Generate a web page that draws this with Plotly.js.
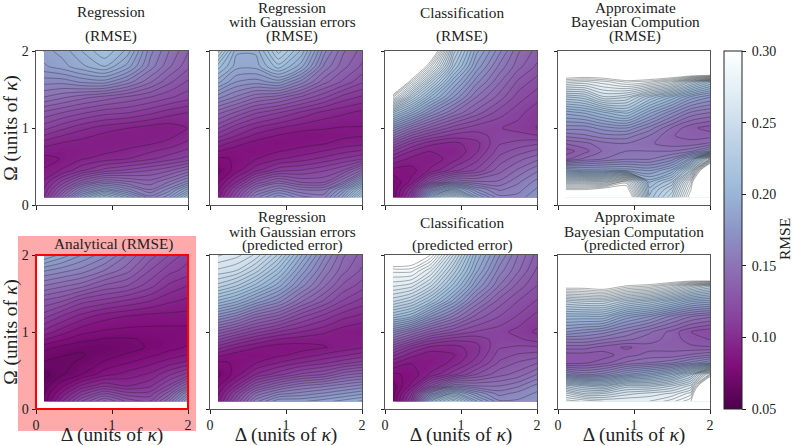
<!DOCTYPE html>
<html>
<head>
<meta charset="utf-8">
<script src="https://cdn.plot.ly/plotly-3.0.1.min.js"></script>
<style>
	html, body { margin: 0; padding: 0; background: #fff; }
	#chart { width: 793px; height: 446px; }
</style>
</head>
<body>
<div id="chart"></div>
<script>
"use strict";

// grid of the maps, omega goes top to bottom like the rows below
const delta = [0.1, 0.35, 0.6, 0.9, 1.2, 1.5, 1.75, 2.0];
const omega = [2.0, 1.8, 1.6, 1.4, 1.2, 1.0, 0.9, 0.8, 0.7, 0.6, 0.45, 0.3, 0.2, 0.1];

const regressionRmse = [
	[0.185, 0.19, 0.2, 0.212, 0.198, 0.165, 0.15, 0.138],
	[0.18, 0.185, 0.192, 0.2, 0.185, 0.16, 0.145, 0.133],
	[0.165, 0.165, 0.17, 0.172, 0.16, 0.145, 0.133, 0.124],
	[0.15, 0.145, 0.14, 0.135, 0.13, 0.125, 0.12, 0.115],
	[0.13, 0.125, 0.12, 0.115, 0.113, 0.108, 0.103, 0.1],
	[0.115, 0.108, 0.102, 0.097, 0.094, 0.091, 0.09, 0.094],
	[0.106, 0.1, 0.096, 0.092, 0.09, 0.09, 0.092, 0.097],
	[0.097, 0.093, 0.091, 0.09, 0.091, 0.093, 0.096, 0.102],
	[0.09, 0.089, 0.09, 0.092, 0.095, 0.099, 0.103, 0.108],
	[0.085, 0.088, 0.093, 0.097, 0.1, 0.105, 0.11, 0.115],
	[0.088, 0.095, 0.105, 0.115, 0.12, 0.125, 0.13, 0.14],
	[0.095, 0.115, 0.135, 0.15, 0.145, 0.14, 0.15, 0.165],
	[0.1, 0.13, 0.16, 0.18, 0.165, 0.15, 0.165, 0.19],
	[0.105, 0.145, 0.185, 0.215, 0.19, 0.165, 0.18, 0.215]
];
const gaussianRmse = [
	[0.235, 0.195, 0.195, 0.228, 0.205, 0.165, 0.145, 0.135],
	[0.21, 0.19, 0.19, 0.21, 0.19, 0.155, 0.14, 0.13],
	[0.19, 0.175, 0.172, 0.178, 0.16, 0.14, 0.13, 0.12],
	[0.165, 0.155, 0.145, 0.14, 0.13, 0.12, 0.11, 0.105],
	[0.14, 0.13, 0.12, 0.113, 0.105, 0.098, 0.095, 0.092],
	[0.12, 0.108, 0.1, 0.094, 0.09, 0.088, 0.087, 0.087],
	[0.109, 0.1, 0.092, 0.087, 0.084, 0.085, 0.086, 0.087],
	[0.098, 0.09, 0.085, 0.083, 0.085, 0.087, 0.09, 0.092],
	[0.088, 0.084, 0.083, 0.087, 0.09, 0.094, 0.098, 0.101],
	[0.08, 0.082, 0.087, 0.093, 0.097, 0.102, 0.107, 0.112],
	[0.073, 0.085, 0.098, 0.11, 0.113, 0.118, 0.125, 0.145],
	[0.08, 0.1, 0.125, 0.14, 0.13, 0.13, 0.15, 0.185],
	[0.085, 0.115, 0.145, 0.16, 0.15, 0.15, 0.175, 0.215],
	[0.09, 0.125, 0.16, 0.18, 0.165, 0.16, 0.19, 0.24]
];
const classificationRmse = [
	[0.45, 0.38, 0.33, 0.235, 0.19, 0.165, 0.145, 0.135],
	[0.4, 0.35, 0.285, 0.22, 0.18, 0.155, 0.14, 0.13],
	[0.36, 0.29, 0.24, 0.195, 0.165, 0.145, 0.13, 0.122],
	[0.29, 0.24, 0.205, 0.175, 0.15, 0.135, 0.122, 0.115],
	[0.22, 0.195, 0.17, 0.15, 0.135, 0.122, 0.115, 0.108],
	[0.17, 0.15, 0.135, 0.122, 0.115, 0.113, 0.11, 0.106],
	[0.15, 0.13, 0.118, 0.11, 0.11, 0.115, 0.115, 0.113],
	[0.13, 0.112, 0.102, 0.098, 0.104, 0.118, 0.121, 0.124],
	[0.113, 0.1, 0.094, 0.094, 0.105, 0.122, 0.128, 0.133],
	[0.1, 0.092, 0.09, 0.097, 0.11, 0.127, 0.135, 0.142],
	[0.085, 0.085, 0.095, 0.11, 0.12, 0.135, 0.145, 0.155],
	[0.075, 0.09, 0.125, 0.15, 0.145, 0.145, 0.155, 0.165],
	[0.075, 0.105, 0.165, 0.2, 0.17, 0.155, 0.16, 0.17],
	[0.075, 0.115, 0.2, 0.245, 0.19, 0.165, 0.165, 0.175]
];
const abcRmse = [
	[0.5, 0.5, 0.5, 0.5, 0.5, 0.5, 0.5, 0.5],
	[0.35, 0.35, 0.35, 0.36, 0.36, 0.37, 0.39, 0.41],
	[0.285, 0.28, 0.285, 0.295, 0.29, 0.275, 0.245, 0.22],
	[0.23, 0.235, 0.255, 0.25, 0.225, 0.205, 0.185, 0.175],
	[0.19, 0.195, 0.205, 0.215, 0.19, 0.17, 0.155, 0.15],
	[0.165, 0.165, 0.172, 0.175, 0.16, 0.143, 0.133, 0.128],
	[0.152, 0.155, 0.16, 0.16, 0.15, 0.138, 0.135, 0.135],
	[0.138, 0.142, 0.148, 0.15, 0.145, 0.14, 0.14, 0.145],
	[0.128, 0.135, 0.145, 0.15, 0.15, 0.15, 0.155, 0.17],
	[0.135, 0.145, 0.15, 0.155, 0.155, 0.165, 0.19, 0.26],
	[0.19, 0.185, 0.185, 0.185, 0.18, 0.195, 0.24, 0.36],
	[0.26, 0.26, 0.26, 0.29, 0.205, 0.225, 0.29, 0.4],
	[0.3, 0.3, 0.31, 0.31, 0.215, 0.24, 0.3, 0.45],
	[0.34, 0.34, 0.36, 0.33, 0.22, 0.25, 0.31, 0.5]
];
const analyticalRmse = [
	[0.195, 0.185, 0.175, 0.165, 0.15, 0.135, 0.125, 0.115],
	[0.17, 0.165, 0.16, 0.15, 0.14, 0.125, 0.115, 0.11],
	[0.15, 0.145, 0.14, 0.13, 0.125, 0.115, 0.105, 0.1],
	[0.13, 0.125, 0.115, 0.11, 0.105, 0.1, 0.095, 0.092],
	[0.115, 0.105, 0.097, 0.09, 0.087, 0.085, 0.085, 0.085],
	[0.098, 0.09, 0.083, 0.08, 0.079, 0.079, 0.079, 0.079],
	[0.088, 0.082, 0.077, 0.074, 0.074, 0.076, 0.078, 0.08],
	[0.078, 0.073, 0.07, 0.069, 0.072, 0.076, 0.079, 0.082],
	[0.072, 0.069, 0.068, 0.072, 0.076, 0.08, 0.084, 0.088],
	[0.068, 0.067, 0.07, 0.076, 0.081, 0.086, 0.091, 0.096],
	[0.06, 0.068, 0.075, 0.085, 0.09, 0.095, 0.105, 0.115],
	[0.065, 0.08, 0.095, 0.105, 0.1, 0.105, 0.12, 0.145],
	[0.068, 0.09, 0.11, 0.125, 0.115, 0.115, 0.135, 0.17],
	[0.07, 0.1, 0.125, 0.145, 0.13, 0.125, 0.15, 0.19]
];
const gaussianPredicted = [
	[0.27, 0.265, 0.255, 0.23, 0.195, 0.165, 0.145, 0.135],
	[0.255, 0.25, 0.235, 0.21, 0.18, 0.155, 0.14, 0.13],
	[0.235, 0.225, 0.21, 0.19, 0.165, 0.145, 0.13, 0.122],
	[0.205, 0.195, 0.18, 0.165, 0.145, 0.13, 0.118, 0.11],
	[0.17, 0.16, 0.145, 0.135, 0.12, 0.11, 0.102, 0.098],
	[0.135, 0.125, 0.115, 0.106, 0.1, 0.095, 0.09, 0.088],
	[0.119, 0.108, 0.1, 0.093, 0.09, 0.089, 0.089, 0.089],
	[0.103, 0.094, 0.088, 0.084, 0.085, 0.087, 0.09, 0.093],
	[0.09, 0.084, 0.083, 0.086, 0.09, 0.095, 0.099, 0.103],
	[0.08, 0.082, 0.087, 0.094, 0.1, 0.105, 0.11, 0.115],
	[0.073, 0.085, 0.1, 0.11, 0.12, 0.125, 0.135, 0.14],
	[0.08, 0.1, 0.125, 0.14, 0.15, 0.155, 0.16, 0.165],
	[0.085, 0.115, 0.145, 0.16, 0.165, 0.17, 0.175, 0.18],
	[0.09, 0.125, 0.16, 0.18, 0.18, 0.185, 0.19, 0.195]
];
const classificationPredicted = [
	[0.33, 0.32, 0.3, 0.25, 0.2, 0.17, 0.15, 0.135],
	[0.29, 0.29, 0.27, 0.23, 0.19, 0.16, 0.145, 0.13],
	[0.27, 0.265, 0.245, 0.21, 0.175, 0.15, 0.135, 0.125],
	[0.245, 0.235, 0.215, 0.185, 0.155, 0.135, 0.125, 0.118],
	[0.21, 0.2, 0.175, 0.155, 0.135, 0.125, 0.118, 0.11],
	[0.165, 0.15, 0.135, 0.125, 0.118, 0.115, 0.11, 0.105],
	[0.145, 0.13, 0.115, 0.108, 0.108, 0.116, 0.114, 0.11],
	[0.125, 0.108, 0.098, 0.097, 0.104, 0.118, 0.12, 0.12],
	[0.108, 0.096, 0.09, 0.093, 0.105, 0.122, 0.126, 0.128],
	[0.095, 0.088, 0.088, 0.096, 0.11, 0.126, 0.132, 0.137],
	[0.08, 0.083, 0.095, 0.11, 0.125, 0.135, 0.14, 0.15],
	[0.072, 0.09, 0.125, 0.155, 0.15, 0.15, 0.155, 0.165],
	[0.072, 0.105, 0.165, 0.2, 0.175, 0.16, 0.165, 0.17],
	[0.072, 0.115, 0.2, 0.235, 0.195, 0.17, 0.17, 0.175]
];
const abcPredicted = [
	[0.5, 0.5, 0.5, 0.5, 0.5, 0.5, 0.5, 0.5],
	[0.36, 0.36, 0.37, 0.36, 0.36, 0.37, 0.39, 0.42],
	[0.31, 0.31, 0.315, 0.3, 0.295, 0.28, 0.26, 0.245],
	[0.245, 0.25, 0.25, 0.235, 0.225, 0.21, 0.195, 0.19],
	[0.205, 0.205, 0.205, 0.185, 0.175, 0.16, 0.15, 0.145],
	[0.175, 0.17, 0.165, 0.155, 0.145, 0.135, 0.125, 0.12],
	[0.155, 0.155, 0.15, 0.145, 0.14, 0.135, 0.128, 0.125],
	[0.14, 0.14, 0.135, 0.13, 0.135, 0.135, 0.133, 0.132],
	[0.128, 0.128, 0.128, 0.135, 0.14, 0.14, 0.145, 0.15],
	[0.128, 0.13, 0.135, 0.145, 0.15, 0.155, 0.165, 0.175],
	[0.17, 0.16, 0.165, 0.18, 0.19, 0.205, 0.23, 0.285],
	[0.235, 0.225, 0.22, 0.24, 0.24, 0.25, 0.265, 0.36],
	[0.265, 0.25, 0.25, 0.26, 0.265, 0.27, 0.285, 0.4],
	[0.285, 0.28, 0.275, 0.275, 0.275, 0.285, 0.3, 0.45]
];

const grids = [regressionRmse, gaussianRmse, classificationRmse, abcRmse,
	analyticalRmse, gaussianPredicted, classificationPredicted, abcPredicted];

const axisTicks = [0, 1, 2];
const colorTicks = [0.05, 0.1, 0.15, 0.2, 0.25, 0.3];
const deltaLabel = "Δ (units of <i>κ</i>)";
const omegaLabel = "Ω (units of <i>κ</i>)";

const titleLines = [
	"Regression", "(RMSE)",
	"Regression", "with Gaussian errors", "(RMSE)",
	"Classification", "(RMSE)",
	"Approximate", "Bayesian Compution", "(RMSE)",
	"Analytical (RMSE)",
	"Regression", "with Gaussian errors", "(predicted error)",
	"Classification", "(predicted error)",
	"Approximate", "Bayesian Computation", "(predicted error)"
];

// pixel spots, same order as titleLines
const titleSpots = [
	[111, 12], [111, 36.5],
	[292, 7.5], [292, 21.5], [292, 36],
	[462, 13], [462, 36.5],
	[635, 7.5], [635, 21.5], [635, 36],
	[113, 244],
	[292, 216.5], [292, 232], [292, 245],
	[462, 222], [462, 245],
	[634, 216], [634, 231], [634, 245]
];

const W = 793, H = 446;
const FONT = "'Liberation Serif', serif";
const DARK = "#222";
const SPINE = "#555";

const colLeft = [36, 210, 385, 558];
const colWidth = 152;
const rowTop = [51, 255];
const rowHeight = 154;

// BuPu reversed
const scale = [
	[0, "#4d004b"], [0.125, "#810f7c"], [0.25, "#88419d"], [0.375, "#8c6bb1"],
	[0.5, "#8c96c6"], [0.625, "#9ebcda"], [0.75, "#bfd3e6"], [0.875, "#e0ecf4"],
	[0.975, "#f7fcfd"], [1, "#ffffff"]
];

function px(x) {
	return x / W;
} //px

function py(y) {
	return 1 - y / H;
} //py

function start() {
	let data = [], layout = {
		width: W,
		height: H,
		margin: { l: 0, r: 0, t: 0, b: 0 },
		paper_bgcolor: "#fff",
		plot_bgcolor: "#fff",
		showlegend: false,
		font: { family: FONT, size: 14, color: DARK },
		annotations: [],
		shapes: [
			// pink block behind the analytical panel, then white again under the plot
			{ type: "rect", xref: "paper", yref: "paper", layer: "below", line: { width: 0 }, fillcolor: "#ffaaaa",
				x0: px(18), x1: px(196), y0: py(431), y1: py(236) },
			{ type: "rect", xref: "paper", yref: "paper", layer: "below", line: { width: 0 }, fillcolor: "#fff",
				x0: px(36), x1: px(188), y0: py(409), y1: py(255) }
		]
	};

	grids.forEach(function (z, i) {
		let col = i % 4, row = Math.floor(i / 4), n = i === 0 ? "" : String(i + 1);
		// fine fill first, the coarser line levels go on top
		data.push({
			type: "contour",
			x: delta,
			y: omega,
			z: z,
			xaxis: "x" + n,
			yaxis: "y" + n,
			zmin: 0.05,
			zmax: 0.3,
			zauto: false,
			autocontour: false,
			colorscale: scale,
			showscale: false,
			contours: { start: 0.05, end: 0.3, size: 0.00125, coloring: "fill", showlines: false },
			line: { width: 0, smoothing: 0.8 },
			hoverinfo: "skip"
		});
		data.push({
			type: "contour",
			x: delta,
			y: omega,
			z: z,
			xaxis: "x" + n,
			yaxis: "y" + n,
			autocontour: false,
			showscale: false,
			contours: { start: 0.05, end: 0.3, size: 0.00625, coloring: "none", showlines: true },
			line: { color: "rgba(30,30,30,0.5)", width: 0.7, smoothing: 0.8 },
			hoverinfo: "skip"
		});
		layout["xaxis" + n] = {
			domain: [px(colLeft[col]), px(colLeft[col] + colWidth)],
			range: [0, 2],
			anchor: "y" + n,
			tickmode: "array",
			tickvals: axisTicks,
			ticktext: row === 1 ? axisTicks.map(String) : axisTicks.map(function () { return ""; }),
			ticks: "outside",
			ticklen: 3.5,
			tickcolor: DARK,
			showgrid: false,
			zeroline: false,
			showline: true,
			mirror: true,
			linecolor: SPINE,
			linewidth: 1,
			tickfont: { size: 14, family: FONT, color: DARK },
			title: row === 1 ? { text: deltaLabel, font: { size: 19.5, family: FONT, color: DARK }, standoff: 6 } : { text: "" }
		};
		layout["yaxis" + n] = {
			domain: [py(rowTop[row] + rowHeight), py(rowTop[row])],
			range: [0, 2],
			anchor: "x" + n,
			tickmode: "array",
			tickvals: axisTicks,
			ticktext: col === 0 ? axisTicks.map(String) : axisTicks.map(function () { return ""; }),
			ticks: "outside",
			ticklen: 3.5,
			tickcolor: DARK,
			showgrid: false,
			zeroline: false,
			showline: true,
			mirror: true,
			linecolor: SPINE,
			linewidth: 1,
			tickfont: { size: 14, family: FONT, color: DARK },
			title: col === 0 ? { text: omegaLabel, font: { size: 19.5, family: FONT, color: DARK }, standoff: 2 } : { text: "" }
		};
		// the fills leave a grey hairline along the data edge, wipe it
		layout.shapes.push(
			{ type: "rect", xref: "x" + n, yref: "y" + n, layer: "above", line: { width: 0 }, fillcolor: "#fff",
				x0: 0.01, x1: 0.105, y0: 0.01, y1: 1.99 },
			{ type: "rect", xref: "x" + n, yref: "y" + n, layer: "above", line: { width: 0 }, fillcolor: "#fff",
				x0: 0.01, x1: 1.99, y0: 0.01, y1: 0.095 }
		);
	});

	layout.shapes.push({ type: "rect", xref: "paper", yref: "paper", layer: "above", line: { width: 2, color: "#ff0000" },
		x0: px(36), x1: px(188), y0: py(409), y1: py(255) });

	// heatmap parked off the axis range, it only carries the smooth colour bar
	data.push({
		type: "heatmap",
		x: [-2, -1],
		y: [-2, -1],
		z: [[colorTicks[0], colorTicks[5]], [colorTicks[0], colorTicks[5]]],
		zmin: 0.05,
		zmax: 0.3,
		colorscale: scale,
		hoverinfo: "skip",
		colorbar: {
			x: px(724),
			xanchor: "left",
			xpad: 0,
			y: py(409),
			yanchor: "bottom",
			ypad: 0,
			len: 358,
			lenmode: "pixels",
			thickness: 18,
			thicknessmode: "pixels",
			outlinecolor: DARK,
			outlinewidth: 1,
			tickmode: "array",
			tickvals: colorTicks,
			ticktext: colorTicks.map(function (v) { return "&nbsp;" + v.toFixed(2); }),
			ticks: "outside",
			ticklen: 3.5,
			tickcolor: DARK,
			tickfont: { size: 14, family: FONT, color: DARK }
		}
	});

	titleLines.forEach(function (text, i) {
		layout.annotations.push({
			text: text,
			xref: "paper",
			yref: "paper",
			x: px(titleSpots[i][0]),
			y: py(titleSpots[i][1]),
			xanchor: "center",
			yanchor: "middle",
			showarrow: false,
			font: { size: 15.3, family: FONT, color: DARK }
		});
	});

	layout.annotations.push({
		text: "RMSE",
		xref: "paper",
		yref: "paper",
		x: px(784),
		y: py(239),
		xanchor: "center",
		yanchor: "middle",
		textangle: -90,
		showarrow: false,
		font: { size: 15.5, family: FONT, color: DARK }
	});

	return Plotly.newPlot("chart", data, layout, { displayModeBar: false, staticPlot: true });
} //start

window.addEventListener("DOMContentLoaded", start);
</script>
</body>
</html>
